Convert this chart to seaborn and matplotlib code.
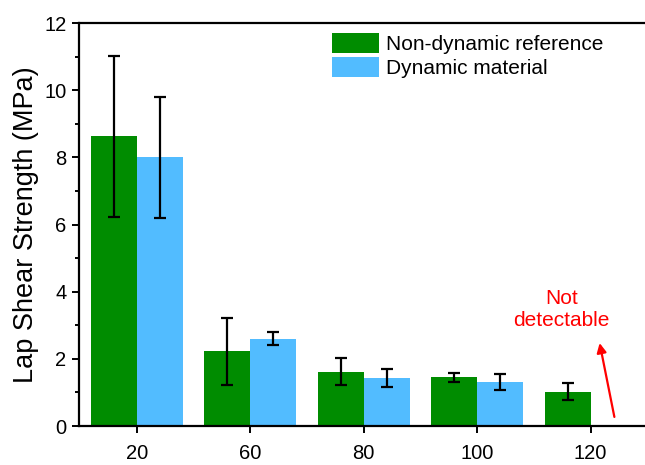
import matplotlib
matplotlib.use("Agg")
import matplotlib.pyplot as plt
import seaborn as sns
import numpy as np
import pandas as pd

temps = ["20", "60", "80", "100", "120"]
series = ["Non-dynamic reference", "Dynamic material"]
ref_mean = [8.63, 2.23, 1.62, 1.45, 1.02]
ref_err = [2.4, 1.0, 0.4, 0.14, 0.26]
dyn_mean = [8.0, 2.6, 1.42, 1.31, np.nan]
dyn_err = [1.8, 0.2, 0.27, 0.25, np.nan]
colors = ["#008C00", "#52BCFF"]

sns.set_theme(style="ticks")
plt.rcParams["font.family"] = ["Liberation Sans", "DejaVu Sans"]
for k in ["text.color", "axes.labelcolor", "xtick.color", "ytick.color", "axes.edgecolor"]:
    plt.rcParams[k] = "black"

df = pd.DataFrame({
    "temp": temps * 2,
    "series": [series[0]] * 5 + [series[1]] * 5,
    "value": ref_mean + dyn_mean,
    "err": ref_err + dyn_err,
})

fig = plt.figure(figsize=(6.45, 4.65), dpi=100)
ax = fig.add_axes([79 / 645, 39 / 465, (645 - 79) / 645, (426 - 23) / 465])

sns.barplot(data=df, x="temp", y="value", hue="series", order=temps,
            hue_order=series, palette=colors, width=0.81, errorbar=None,
            saturation=1, ax=ax, legend=True, linewidth=0, edgecolor="none")

# error bars at bar centres
for s_idx, s in enumerate(series):
    cont = ax.containers[s_idx]
    sub = df[df["series"] == s].set_index("temp").loc[temps]
    for bar, (_, row) in zip(cont, sub.iterrows()):
        if np.isnan(row["value"]):
            continue
        xc = bar.get_x() + bar.get_width() / 2
        ax.errorbar(xc, row["value"], yerr=row["err"], fmt="none",
                    ecolor="black", elinewidth=1.6, capsize=4.3,
                    capthick=1.6, zorder=5)

ax.set_xlim(-0.51, 4.48)
ax.set_ylim(0, 12)
ax.set_yticks(np.arange(0, 13, 2))
ax.set_yticks(np.arange(1, 12, 2), minor=True)
ax.set_xlabel("")
ax.set_ylabel("Lap Shear Strength (MPa)", fontsize=19.5, labelpad=4)

for sp in ["left", "bottom", "top"]:
    ax.spines[sp].set_linewidth(1.6)
    ax.spines[sp].set_color("black")
ax.spines["right"].set_visible(False)

ax.tick_params(axis="y", which="major", length=5, width=1.4, labelsize=14.5, pad=4, direction="out")
ax.tick_params(axis="y", which="minor", length=3, width=1.4, direction="out", left=True)
ax.tick_params(axis="x", which="major", length=5, width=1.4, labelsize=14.5, pad=8, direction="out")
ax.tick_params(top=False, right=False)

handles, labels = ax.get_legend_handles_labels()
ax.legend(handles, labels, loc="upper left", bbox_to_anchor=(332 / 645, 1 - 33 / 465),
          bbox_transform=fig.transFigure, frameon=False, fontsize=15,
          handlelength=2.25, handleheight=1.1, handletextpad=0.35,
          labelspacing=0.15, borderpad=0, borderaxespad=0)

ax.text(3.745, 3.47, "Not\ndetectable", color="red", fontsize=15,
        ha="center", va="center", linespacing=1.25)
ax.annotate("", xy=(4.08, 2.47), xytext=(4.21, 0.27),
            arrowprops=dict(arrowstyle="-|>", color="red", lw=1.6,
                            mutation_scale=14, shrinkA=0, shrinkB=0))

fig.savefig("out.png", dpi=100)
